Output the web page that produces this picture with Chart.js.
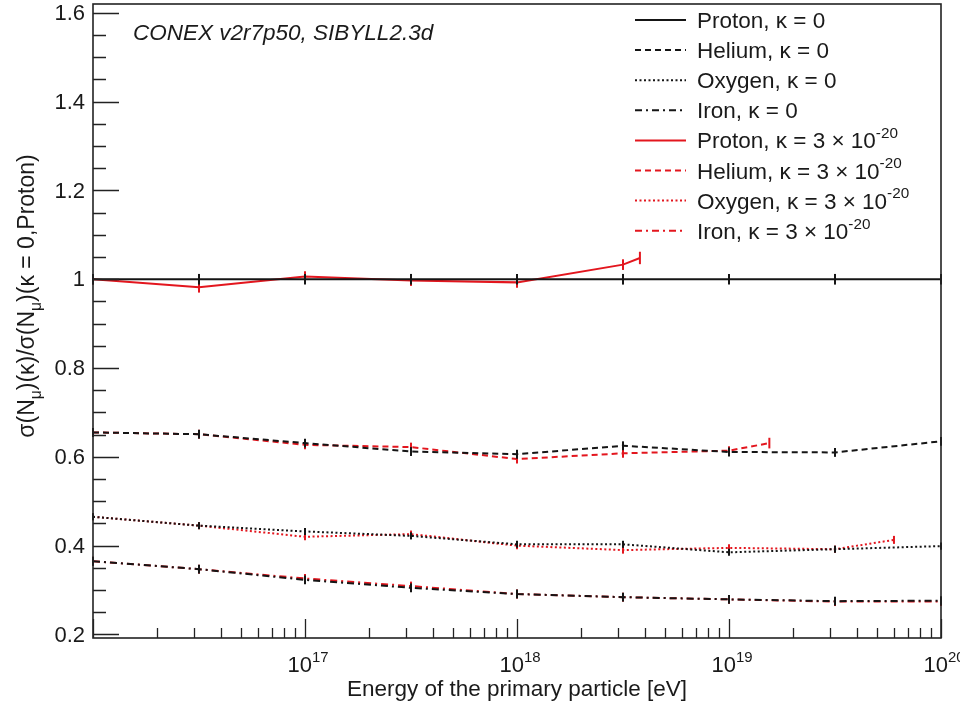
<!DOCTYPE html>
<html>
<head>
<meta charset="utf-8">
<script src="https://cdn.jsdelivr.net/npm/chart.js@4.4.1/dist/chart.umd.min.js"></script>
<style>
  html, body { margin: 0; padding: 0; background: #ffffff; }
  canvas { display: block; }
</style>
</head>
<body>
<canvas id="c" width="960" height="706"></canvas>
<script>
// Primary energies [eV]
const energyFull     = [1e16, 3.162e16, 1e17, 3.162e17, 1e18, 3.162e18, 1e19, 3.162e19, 1e20];
const energyProtonK3 = [1e16, 3.162e16, 1e17, 3.162e17, 1e18, 3.162e18, 3.8e18];
const energyHeliumK3 = [1e16, 3.162e16, 1e17, 3.162e17, 1e18, 3.162e18, 1e19, 1.55e19];
const energyOxygenK3 = [1e16, 3.162e16, 1e17, 3.162e17, 1e18, 3.162e18, 1e19, 3.162e19, 6e19];
const energyIronK3   = [1e16, 3.162e16, 1e17, 3.162e17, 1e18, 3.162e18, 1e19, 3.162e19, 1e20];

// sigma(N_mu) ratios, kappa = 0
const protonK0 = [1.000, 1.000, 1.000, 1.000, 1.000, 1.000, 1.000, 1.000, 1.000];
const heliumK0 = [0.655, 0.651, 0.631, 0.612, 0.606, 0.625, 0.611, 0.610, 0.635];
const oxygenK0 = [0.465, 0.445, 0.432, 0.422, 0.403, 0.403, 0.385, 0.392, 0.399];
const ironK0   = [0.365, 0.347, 0.323, 0.305, 0.291, 0.284, 0.279, 0.275, 0.276];

// sigma(N_mu) ratios, kappa = 3e-20
const protonK3 = [1.000, 0.982, 1.006, 0.997, 0.993, 1.033, 1.048];
const heliumK3 = [0.655, 0.651, 0.627, 0.622, 0.595, 0.608, 0.614, 0.631];
const oxygenK3 = [0.465, 0.445, 0.420, 0.426, 0.400, 0.390, 0.395, 0.392, 0.413];
const ironK3   = [0.365, 0.347, 0.326, 0.309, 0.291, 0.284, 0.279, 0.274, 0.274];

// statistical uncertainties
const errProtonK0 = [0.012, 0.012, 0.012, 0.012, 0.012, 0.012, 0.012, 0.012, 0.012];
const errHeliumK0 = [0.010, 0.010, 0.010, 0.010, 0.010, 0.010, 0.010, 0.010, 0.010];
const errOxygenK0 = [0.008, 0.008, 0.008, 0.008, 0.008, 0.008, 0.008, 0.008, 0.008];
const errIronK0   = [0.010, 0.010, 0.010, 0.010, 0.010, 0.010, 0.010, 0.010, 0.010];
const errProtonK3 = [0.012, 0.012, 0.012, 0.012, 0.012, 0.012, 0.014];
const errHeliumK3 = [0.010, 0.010, 0.010, 0.010, 0.010, 0.010, 0.010, 0.012];
const errOxygenK3 = [0.008, 0.008, 0.008, 0.008, 0.008, 0.008, 0.008, 0.008, 0.009];
const errIronK3   = [0.010, 0.010, 0.010, 0.010, 0.010, 0.010, 0.010, 0.010, 0.010];

const BLACK = '#151515';
const RED = '#e3161e';
const SOLID = [], DASH = [6, 4], DOT = [2, 2.5], DASHDOT = [7, 4, 2, 4];
const FONT = '"Liberation Sans", Arial, Helvetica, sans-serif';

function series(label, xs, ys, errs, color, dash) {
  return {
    label,
    data: xs.map((x, i) => ({ x, y: ys[i] })),
    errors: errs,
    borderColor: color,
    backgroundColor: color,
    borderDash: dash,
    borderWidth: 2,
    pointRadius: 0,
    tension: 0,
    fill: false
  };
}

const datasets = [
  series('Proton, κ = 0', energyFull, protonK0, errProtonK0, BLACK, SOLID),
  series('Helium, κ = 0', energyFull, heliumK0, errHeliumK0, BLACK, DASH),
  series('Oxygen, κ = 0', energyFull, oxygenK0, errOxygenK0, BLACK, DOT),
  series('Iron, κ = 0', energyFull, ironK0, errIronK0, BLACK, DASHDOT),
  series('Proton, κ = 3 × 10', energyProtonK3, protonK3, errProtonK3, RED, SOLID),
  series('Helium, κ = 3 × 10', energyHeliumK3, heliumK3, errHeliumK3, RED, DASH),
  series('Oxygen, κ = 3 × 10', energyOxygenK3, oxygenK3, errOxygenK3, RED, DOT),
  series('Iron, κ = 3 × 10', energyIronK3, ironK3, errIronK3, RED, DASHDOT)
];
const legendSup = ['', '', '', '', '-20', '-20', '-20', '-20'];

const yMajor = [0.2, 0.4, 0.6, 0.8, 1.0, 1.2, 1.4, 1.6];
const yMajorLabels = ['0.2', '0.4', '0.6', '0.8', '1', '1.2', '1.4', '1.6'];
const xDecades = [16, 17, 18, 19, 20];
const xLabelDecades = [17, 18, 19, 20];

// draw a run of text pieces; each piece may be raised (sup) or lowered (sub)
function richWidth(ctx, parts, size) {
  let w = 0;
  for (const p of parts) {
    const s = p.sup || p.sub ? size * 0.68 : size;
    ctx.font = (p.italic ? 'italic ' : '') + s + 'px ' + FONT;
    w += ctx.measureText(p.t).width;
  }
  return w;
}
function richDraw(ctx, parts, x, y, size) {
  let cx = x;
  ctx.textBaseline = 'alphabetic';
  ctx.textAlign = 'left';
  for (const p of parts) {
    const s = p.sup || p.sub ? size * 0.68 : size;
    ctx.font = (p.italic ? 'italic ' : '') + s + 'px ' + FONT;
    const dy = p.sup ? -size * 0.45 : (p.sub ? size * 0.3 : 0);
    ctx.fillText(p.t, cx, y + dy);
    cx += ctx.measureText(p.t).width;
  }
}

const decorPlugin = {
  id: 'decor',
  afterDatasetDraw(chart, args) {
    const ds = chart.data.datasets[args.index];
    const { ctx, chartArea } = chart;
    const xs = chart.scales.x, ys = chart.scales.y;
    ctx.save();
    ctx.beginPath();
    ctx.rect(chartArea.left - 2, chartArea.top, chartArea.right - chartArea.left + 4, chartArea.bottom - chartArea.top);
    ctx.clip();
    ctx.strokeStyle = ds.borderColor;
    ctx.lineWidth = 2;
    ctx.setLineDash([]);
    ds.data.forEach((pt, i) => {
      const e = ds.errors[i];
      const px = xs.getPixelForValue(pt.x);
      ctx.beginPath();
      ctx.moveTo(px, ys.getPixelForValue(pt.y - e));
      ctx.lineTo(px, ys.getPixelForValue(pt.y + e));
      ctx.stroke();
    });
    ctx.restore();
  },
  afterDraw(chart) {
    const { ctx, chartArea } = chart;
    const xs = chart.scales.x, ys = chart.scales.y;
    const L = chartArea.left, R = chartArea.right, T = chartArea.top, B = chartArea.bottom;
    ctx.save();
    ctx.setLineDash([]);

    // frame
    ctx.strokeStyle = '#222';
    ctx.lineWidth = 1.6;
    ctx.strokeRect(L, T, R - L, B - T);

    // y ticks
    ctx.lineWidth = 1.3;
    ctx.beginPath();
    for (let k = 4; k <= 32; k++) {
      const v = k * 0.05;
      if (v < ys.min || v > ys.max) continue;
      const py = Math.round(ys.getPixelForValue(v)) + 0.5;
      const len = (k % 4 === 0) ? 26 : 13;
      ctx.moveTo(L, py);
      ctx.lineTo(L + len, py);
    }
    ctx.stroke();

    // x ticks (log)
    ctx.beginPath();
    xDecades.forEach((d, di) => {
      const base = Math.pow(10, d);
      const px = Math.round(xs.getPixelForValue(base)) + 0.5;
      ctx.moveTo(px, B);
      ctx.lineTo(px, B - 19);
      if (di < xDecades.length - 1) {
        for (let m = 2; m <= 9; m++) {
          const qx = Math.round(xs.getPixelForValue(m * base)) + 0.5;
          ctx.moveTo(qx, B);
          ctx.lineTo(qx, B - 10);
        }
      }
    });
    ctx.stroke();

    // y tick labels
    ctx.fillStyle = '#1a1a1a';
    ctx.font = '22px ' + FONT;
    ctx.textAlign = 'right';
    ctx.textBaseline = 'middle';
    yMajor.forEach((v, i) => {
      ctx.fillText(yMajorLabels[i], L - 8, ys.getPixelForValue(v) + 1);
    });

    // x tick labels 10^N
    xLabelDecades.forEach(d => {
      const parts = [{ t: '10' }, { t: String(d), sup: true }];
      const w = richWidth(ctx, parts, 22);
      const px = xs.getPixelForValue(Math.pow(10, d));
      richDraw(ctx, parts, px - w / 2 + 3, B + 34, 22);
    });

    // axis titles
    ctx.font = '22.5px ' + FONT;
    ctx.textAlign = 'center';
    ctx.textBaseline = 'alphabetic';
    ctx.fillText('Energy of the primary particle [eV]', (L + R) / 2, 696);

    const yTitle = [
      { t: 'σ(N' }, { t: 'μ', sub: true }, { t: ')(κ)/σ(N' }, { t: 'μ', sub: true }, { t: ')(κ = 0,Proton)' }
    ];
    ctx.save();
    ctx.translate(34, 296);
    ctx.rotate(-Math.PI / 2);
    const wy = richWidth(ctx, yTitle, 23);
    richDraw(ctx, yTitle, -wy / 2, 0, 23);
    ctx.restore();

    // simulation label
    ctx.font = 'italic 22.5px ' + FONT;
    ctx.textAlign = 'left';
    ctx.fillText('CONEX v2r7p50, SIBYLL2.3d', 133, 40);

    // legend
    chart.data.datasets.forEach((ds, i) => {
      const ry = 20 + i * 30.1;
      ctx.strokeStyle = ds.borderColor;
      ctx.lineWidth = 2;
      ctx.setLineDash(ds.borderDash);
      ctx.beginPath();
      ctx.moveTo(635, ry);
      ctx.lineTo(686, ry);
      ctx.stroke();
      ctx.setLineDash([]);
      ctx.fillStyle = '#1a1a1a';
      const parts = [{ t: ds.label }];
      if (legendSup[i]) parts.push({ t: legendSup[i], sup: true });
      richDraw(ctx, parts, 697, ry + 8, 22.5);
    });
    ctx.restore();
  }
};

new Chart(document.getElementById('c'), {
  type: 'line',
  data: { datasets },
  options: {
    responsive: false,
    animation: false,
    devicePixelRatio: 1,
    layout: { padding: { top: 4, right: 19, left: 0, bottom: 0 } },
    plugins: { legend: { display: false }, tooltip: { enabled: false } },
    scales: {
      x: {
        type: 'logarithmic',
        min: 1e16,
        max: 1e20,
        grid: { display: false, drawTicks: false },
        border: { display: false },
        ticks: { display: false },
        afterFit(scale) { scale.height = 68; }
      },
      y: {
        type: 'linear',
        min: 0.192,
        max: 1.62,
        grid: { display: false, drawTicks: false },
        border: { display: false },
        ticks: { display: false },
        afterFit(scale) { scale.width = 93; }
      }
    }
  },
  plugins: [decorPlugin]
});
</script>
</body>
</html>
